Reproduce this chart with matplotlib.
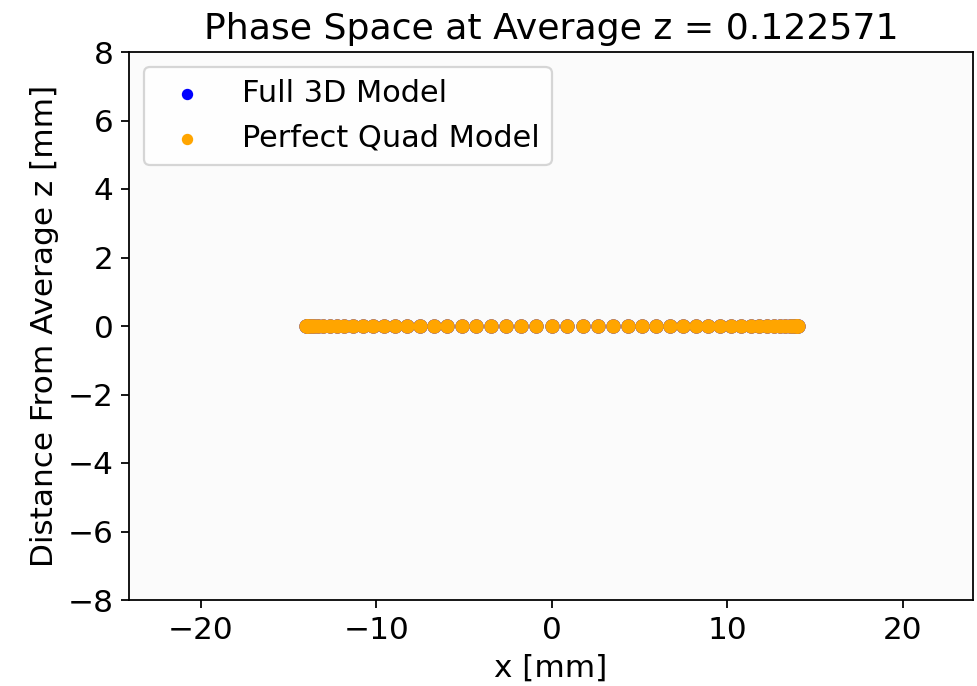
import matplotlib
matplotlib.use("Agg")
import matplotlib.pyplot as plt

# particle positions across the beam [mm], same for both models
x_full = [-14.00, -13.97, -13.89, -13.75, -13.56, -13.31, -13.02, -12.67, -12.27,
          -11.82, -11.33, -10.79, -10.21, -9.58, -8.92, -8.23, -7.50, -6.74,
          -5.96, -5.15, -4.33, -3.48, -2.62, -1.75, -0.88, 0.00,
          0.88, 1.75, 2.62, 3.48, 4.33, 5.15, 5.96, 6.74, 7.50, 8.23, 8.92,
          9.58, 10.21, 10.79, 11.33, 11.82, 12.27, 12.67, 13.02, 13.31, 13.56,
          13.75, 13.89, 13.97, 14.00]
dz_full = [0.0] * len(x_full)
x_quad = list(x_full)
dz_quad = [0.0] * len(x_quad)
z_avg = 0.122571

plt.rcParams['font.size'] = 14

fig = plt.figure(figsize=(977 / 160, 686 / 160), dpi=160)
ax = fig.add_axes([129 / 977, 1 - 600 / 686, (973 - 129) / 977, (600 - 52) / 686])
ax.set_facecolor('#fbfbfb')

ax.scatter(x_full, dz_full, s=30, color='blue', label='Full 3D Model')
ax.scatter(x_quad, dz_quad, s=30, color='orange', label='Perfect Quad Model')

ax.set_xlim(-24.1, 24.0)
ax.set_ylim(-8, 8)
ax.set_xticks([-20, -10, 0, 10, 20])
ax.set_yticks(range(-8, 9, 2))
ax.set_xlabel('x [mm]')
ax.set_ylabel('Distance From Average z [mm]')
ax.set_title(f'Phase Space at Average z = {z_avg}', fontsize=16.3)
ax.legend(loc='upper left', fontsize=13.7, markerscale=0.75)

fig.savefig('out.png', dpi=160)
